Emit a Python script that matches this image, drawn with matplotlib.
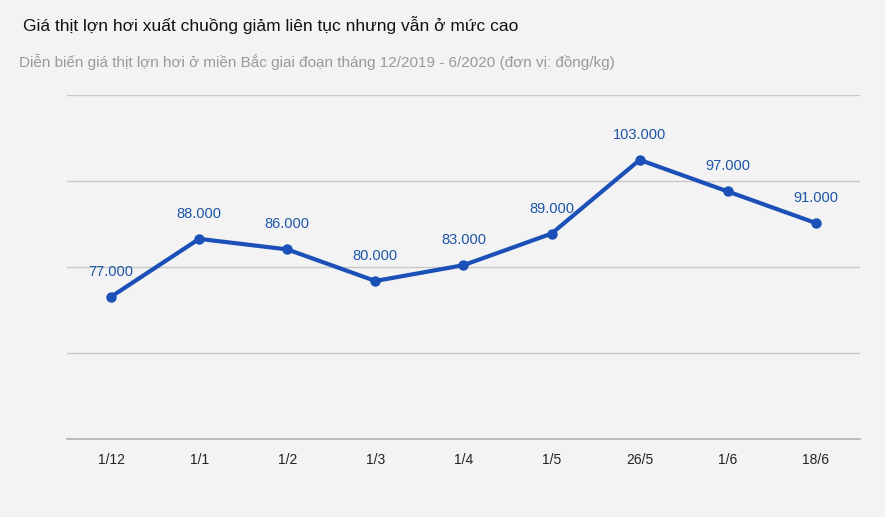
import numpy as np
import matplotlib
matplotlib.use("Agg")
import matplotlib.pyplot as plt

dates = ["1/12", "1/1", "1/2", "1/3", "1/4", "1/5", "26/5", "1/6", "18/6"]
prices = [77, 88, 86, 80, 83, 89, 103, 97, 91]
labels = ["77.000", "88.000", "86.000", "80.000", "83.000", "89.000", "103.000", "97.000", "91.000"]

bg = "#f3f3f3"
blue = "#1a50b8"

fig = plt.figure(figsize=(8.85, 5.17), dpi=100, facecolor=bg)
ax = fig.add_axes([0.0757, 0.151, 0.896, 0.665], facecolor=bg)

x = np.arange(len(dates))
ax.plot(x, prices, color=blue, lw=3, marker="o", ms=6.5, zorder=3)
for xi, yi, lab in zip(x, prices, labels):
    ax.annotate(lab, (xi, yi), xytext=(0, 13), textcoords="offset points",
                ha="center", va="bottom", fontsize=10.5, color="#1d55a8",
                family="Liberation Sans")

ax.set_xlim(-0.5, 8.5)
ax.set_ylim(50, 115.3)
ax.set_yticks(np.linspace(50, 115.3, 5))
ax.yaxis.grid(True, color="#c8c8c8", lw=1)
ax.axhline(50, color="#b0b0b0", lw=1.2, clip_on=False)
ax.tick_params(axis="y", left=False, labelleft=False)
ax.tick_params(axis="x", length=0, pad=10)
ax.set_xticks(x)
ax.set_xticklabels(dates, fontsize=10, color="#222222", family="Liberation Sans")
for s in ax.spines.values():
    s.set_visible(False)

fig.text(0.026, 0.94, "Giá thịt lợn hơi xuất chuồng giảm liên tục nhưng vẫn ở mức cao",
         fontsize=12.5, color="#111111", family="Liberation Sans")
fig.text(0.022, 0.87, "Diễn biến giá thịt lợn hơi ở miền Bắc giai đoạn tháng 12/2019 - 6/2020 (đơn vị: đồng/kg)",
         fontsize=11, color="#999999", family="Liberation Sans")

fig.savefig("out.png", dpi=100, facecolor=bg)
